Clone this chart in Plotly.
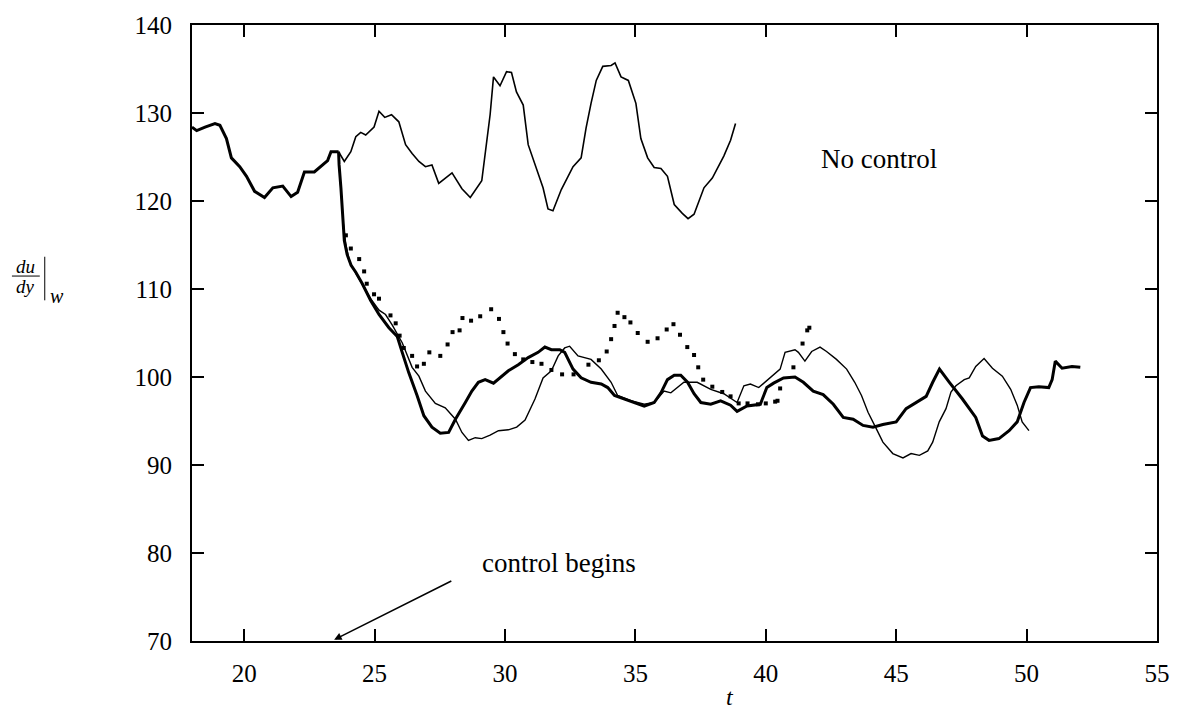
import plotly.graph_objects as go

# Shared history before control starts (all runs identical here)
history_t = [18.0, 18.18, 18.5, 18.88, 19.07, 19.32, 19.51, 19.83, 20.09, 20.4, 20.78,
             21.1, 21.48, 21.8, 22.05, 22.31, 22.69, 23.0, 23.2, 23.33, 23.62]
history_v = [128.4, 128.0, 128.4, 128.8, 128.6, 127.1, 124.9, 123.9, 122.8, 121.1, 120.4,
             121.5, 121.7, 120.5, 121.0, 123.3, 123.3, 124.1, 124.6, 125.6, 125.6]

# Uncontrolled run after t = 23.6
nocontrol_t = [23.62, 23.84, 24.09, 24.28, 24.47, 24.66, 24.98, 25.17, 25.39, 25.65, 25.93,
               26.19, 26.44, 26.7, 26.95, 27.2, 27.46, 27.97, 28.35, 28.67, 29.11, 29.3,
               29.43, 29.56, 29.81, 30.06, 30.25, 30.44, 30.7, 30.89, 31.15, 31.46, 31.65,
               31.84, 32.16, 32.61, 32.92, 33.11, 33.3, 33.5, 33.75, 34.07, 34.22, 34.45,
               34.73, 35.02, 35.21, 35.47, 35.72, 35.98, 36.23, 36.49, 36.8, 37.02, 37.25,
               37.63, 37.95, 38.39, 38.65, 38.84]
nocontrol_v = [125.6, 124.5, 125.6, 127.3, 127.8, 127.5, 128.4, 130.2, 129.5, 129.8, 129.0,
               126.4, 125.4, 124.5, 123.9, 124.1, 122.0, 123.2, 121.4, 120.4, 122.3, 126.8,
               129.8, 134.1, 133.1, 134.7, 134.6, 132.4, 130.9, 126.4, 124.1, 121.5, 119.1,
               118.9, 121.3, 123.9, 124.9, 128.3, 131.1, 133.7, 135.3, 135.4, 135.7, 134.1,
               133.7, 131.1, 127.1, 124.9, 123.8, 123.7, 122.8, 119.6, 118.6, 118.0, 118.5,
               121.5, 122.6, 125.1, 126.9, 128.8]

# Controlled run A (heavy line)
ctrl_a_t = [23.62, 23.64, 23.71, 23.77, 23.84, 23.95, 24.1, 24.28, 24.53, 24.85, 25.17,
            25.55, 25.87, 26.06, 26.31, 26.63, 26.89, 27.2, 27.52, 27.84, 28.1, 28.48,
            28.73, 28.98, 29.24, 29.56, 29.81, 30.13, 30.51, 30.89, 31.27, 31.53, 31.78,
            32.1, 32.29, 32.61, 32.92, 33.3, 33.69, 33.94, 34.2, 34.58, 34.96, 35.34,
            35.72, 35.98, 36.23, 36.49, 36.74, 37.0, 37.25, 37.51, 37.89, 38.27, 38.65,
            38.9, 39.28, 39.79, 40.04, 40.3, 40.68, 41.12, 41.44, 41.82, 42.2, 42.59,
            42.97, 43.35, 43.73, 44.11, 44.49, 45.0, 45.38, 45.77, 46.15, 46.4, 46.66,
            47.04, 47.54, 48.05, 48.31, 48.56, 48.94, 49.33, 49.64, 49.9, 50.15, 50.47,
            50.85, 50.98, 51.1, 51.36, 51.74, 52.06]
ctrl_a_v = [125.6, 124.1, 121.5, 118.5, 115.5, 113.9, 112.7, 111.9, 110.6, 108.7, 107.1,
            105.6, 104.6, 102.8, 100.5, 97.9, 95.6, 94.3, 93.6, 93.7, 95.2, 97.1,
            98.4, 99.4, 99.7, 99.3, 99.9, 100.7, 101.4, 102.2, 102.8, 103.4, 103.1,
            103.1, 102.8, 100.9, 99.9, 99.4, 99.2, 98.8, 97.9, 97.5, 97.1, 96.7,
            97.1, 98.2, 99.7, 100.2, 100.2, 99.4, 98.1, 97.1, 96.9, 97.3, 96.8,
            96.1, 96.7, 96.9, 98.8, 99.3, 99.9, 100.0, 99.4, 98.4, 98.0, 96.9,
            95.4, 95.2, 94.5, 94.3, 94.6, 94.9, 96.4, 97.1, 97.8, 99.4, 100.9,
            99.4, 97.5, 95.4, 93.3, 92.8, 93.0, 93.9, 94.9, 97.1, 98.8, 98.9,
            98.8, 99.7, 101.8, 101.0, 101.2, 101.1]

# Controlled run B (light line)
ctrl_b_t = [23.62, 23.64, 23.72, 23.8, 23.9, 24.05, 24.3, 24.55, 24.85, 25.17, 25.42,
            25.68, 26.06, 26.44, 26.7, 26.95, 27.33, 27.71, 28.1, 28.35, 28.6, 28.86,
            29.11, 29.43, 29.75, 30.13, 30.45, 30.77, 31.15, 31.46, 31.78, 32.04, 32.29,
            32.48, 32.67, 32.8, 33.3, 33.69, 34.07, 34.32, 34.83, 35.34, 35.72, 36.1,
            36.36, 36.86, 37.37, 37.89, 38.39, 38.9, 39.16, 39.41, 39.73, 40.17, 40.55,
            40.74, 41.12, 41.25, 41.5, 41.76, 42.08, 42.33, 42.71, 43.1, 43.41, 43.67,
            43.92, 44.24, 44.49, 44.87, 45.26, 45.57, 45.89, 46.21, 46.4, 46.65, 46.91,
            47.1, 47.29, 47.61, 47.8, 48.05, 48.37, 48.69, 49.07, 49.39, 49.64, 49.83,
            50.09]
ctrl_b_v = [125.6, 124.0, 121.0, 117.5, 115.0, 113.0, 111.7, 110.4, 108.9, 107.6, 107.1,
            105.9, 103.9, 101.1, 100.1, 98.4, 97.0, 96.5, 95.2, 93.7, 92.8, 93.1,
            93.0, 93.4, 93.9, 94.0, 94.3, 95.1, 97.5, 99.9, 100.7, 102.4, 103.3,
            103.5, 102.8, 102.4, 102.0, 100.9, 99.4, 97.9, 97.3, 96.9, 97.1, 98.4,
            98.2, 99.4, 99.4, 98.6, 98.1, 97.1, 99.0, 99.2, 98.8, 99.9, 100.9,
            102.8, 103.1, 102.8, 101.8, 102.9, 103.4, 102.9, 102.0, 100.9, 99.4, 97.9,
            96.0, 94.1, 92.6, 91.3, 90.8, 91.3, 91.1, 91.6, 92.6, 94.9, 96.4,
            98.3, 99.0, 99.7, 99.9, 101.2, 102.1, 101.0, 100.1, 98.6, 96.8, 94.9,
            93.9]

# Controlled run C (sampled points)
ctrl_c_t = [23.9, 24.09, 24.41, 24.6, 24.7, 24.98, 25.17, 25.61, 25.81, 25.96, 26.12,
            26.44, 26.63, 26.89, 27.1, 27.52, 27.8, 27.99, 28.26, 28.37, 28.7, 29.05,
            29.47, 29.77, 29.94, 30.1, 30.38, 30.7, 31.05, 31.4, 31.78, 32.19, 32.63,
            33.2, 33.6, 33.9, 34.07, 34.2, 34.32, 34.58, 34.81, 35.09, 35.47, 35.85,
            36.2, 36.46, 36.71, 36.99, 37.25, 37.41, 37.6, 37.95, 38.33, 38.65, 38.96,
            39.3, 39.7, 40.0, 40.36, 40.45, 40.55, 41.06, 41.41, 41.59, 41.67]
ctrl_c_v = [116.1, 114.6, 113.4, 112.0, 110.6, 109.4, 108.9, 107.0, 106.1, 104.7, 103.3,
            102.4, 101.2, 101.5, 102.8, 102.4, 103.7, 105.1, 105.3, 106.7, 106.4, 106.9,
            107.7, 106.6, 105.1, 103.8, 102.6, 102.0, 101.7, 101.5, 100.8, 100.3, 100.3,
            101.4, 101.9, 102.9, 104.3, 105.8, 107.3, 106.8, 106.2, 105.0, 104.0, 104.4,
            105.4, 106.0, 104.8, 103.4, 102.5, 101.1, 99.7, 98.9, 98.3, 97.8, 97.0,
            97.0, 96.9, 97.0, 97.2, 97.3, 98.7, 101.1, 103.8, 105.3, 105.6]

x_ticks = [20, 25, 30, 35, 40, 45, 50, 55]
y_ticks = [70, 80, 90, 100, 110, 120, 130, 140]

FONT = "Liberation Serif"

W, H = 1182, 714
L, R, T, B = 192, 20, 19, 73
PW, PH = W - L - R, H - T - B


def px(x):
    return (x - L) / PW


def py(y):
    return (H - B - y) / PH


def label(x, y, text, size, xref="paper", yref="paper"):
    return dict(x=x, y=y, xref=xref, yref=yref, text=text, showarrow=False,
                xanchor="center", yanchor="middle",
                font=dict(family=FONT, size=size, color="black"))


fig = go.Figure()
fig.add_trace(go.Scatter(x=nocontrol_t, y=nocontrol_v, mode="lines",
                         line=dict(color="black", width=1.6), showlegend=False))
fig.add_trace(go.Scatter(x=ctrl_b_t, y=ctrl_b_v, mode="lines",
                         line=dict(color="black", width=1.4), showlegend=False))
fig.add_trace(go.Scatter(x=ctrl_a_t, y=ctrl_a_v, mode="lines",
                         line=dict(color="black", width=3), showlegend=False))
fig.add_trace(go.Scatter(x=history_t, y=history_v, mode="lines",
                         line=dict(color="black", width=3), showlegend=False))
fig.add_trace(go.Scatter(x=ctrl_c_t, y=ctrl_c_v, mode="markers",
                         marker=dict(color="black", size=4, symbol="square",
                                     line=dict(width=0)),
                         showlegend=False))

axis_common = dict(showline=True, linecolor="black", linewidth=2, mirror="ticks",
                   ticks="inside", ticklen=12, tickwidth=2, tickcolor="black",
                   showgrid=False, zeroline=False,
                   tickfont=dict(family=FONT, size=25, color="black"))

fig.update_xaxes(range=[18, 55], tickvals=x_ticks, ticktext=[str(v) for v in x_ticks],
                 ticklabelstandoff=9, **axis_common)
fig.update_yaxes(range=[70, 140], tickvals=y_ticks, ticktext=[str(v) for v in y_ticks],
                 ticklabelstandoff=13, **axis_common)

annotations = [
    label(44.35, 124.8, "No control", 27, "x", "y"),
    label(32.07, 78.9, "control begins", 27, "x", "y"),
    dict(x=23.45, y=70.15, xref="x", yref="y", ax=28.0, ay=76.9, axref="x", ayref="y",
         text="", showarrow=True, arrowhead=2, arrowsize=1, arrowwidth=1.5,
         arrowcolor="black"),
    label(px(733), py(698), "<i>t</i>", 24),
    label(px(25), py(263), "<i>du</i>", 19),
    label(px(25), py(283), "<i>dy</i>", 19),
    label(px(56), py(293), "<i>w</i>", 20),
]

shapes = [
    dict(type="line", xref="paper", yref="paper", x0=px(11), x1=px(39),
         y0=py(272.5), y1=py(272.5), line=dict(color="black", width=1)),
    dict(type="line", xref="paper", yref="paper", x0=px(44), x1=px(44),
         y0=py(253), y1=py(297), line=dict(color="black", width=1)),
]

fig.update_layout(width=W, height=H, autosize=False,
                  margin=dict(l=L, r=R, t=T, b=B, pad=0),
                  plot_bgcolor="white", paper_bgcolor="white",
                  annotations=annotations, shapes=shapes,
                  font=dict(family=FONT, color="black"))

fig.write_html("out.html")
